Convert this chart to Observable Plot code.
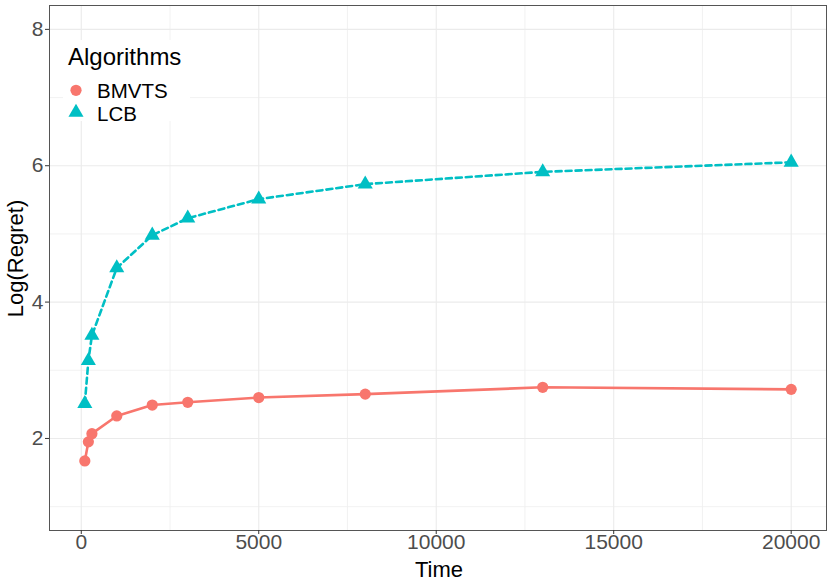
<!DOCTYPE html>
<html>
<head>
<meta charset="utf-8">
<script src="https://cdn.jsdelivr.net/npm/d3@7"></script>
<script src="https://cdn.jsdelivr.net/npm/@observablehq/plot@0.6"></script>
<style>
  html, body { margin: 0; padding: 0; background: white; }
  #wrap { position: relative; width: 830px; height: 588px; font-family: "Liberation Sans", Arial, sans-serif; }
  #legend { position: absolute; left: 63px; top: 40px; overflow: visible; }
</style>
</head>
<body>
<div id="wrap"></div>
<script>
const time = [100, 200, 300, 1000, 2000, 3000, 5000, 8000, 13000, 20000];
const bmvts = [1.67, 1.95, 2.07, 2.33, 2.49, 2.53, 2.60, 2.65, 2.75, 2.72];
const lcb = [2.51, 3.14, 3.51, 4.50, 4.98, 5.23, 5.51, 5.73, 5.91, 6.05];
const algorithms = ["BMVTS", "LCB"];
const colors = ["#F8766D", "#00BFC4"];
const xTicks = [0, 5000, 10000, 15000, 20000];
const xMinor = [2500, 7500, 12500, 17500];
const yTicks = [2, 4, 6, 8];
const yMinor = [1, 3, 5, 7];
const xTitle = "Time";
const yTitle = "Log(Regret)";
const legendTitle = "Algorithms";

const bm = time.map((t, i) => ({t, v: bmvts[i], alg: algorithms[0]}));
const lc = time.map((t, i) => ({t, v: lcb[i], alg: algorithms[1]}));

const font = "Liberation Sans, Arial, sans-serif";
const W = 830, H = 588, mT = 5, mR = 4, mB = 58, mL = 49;
const rCircle = 5.6, rTri = 5.6;

const chart = Plot.plot({
  width: W,
  height: H,
  marginTop: mT,
  marginRight: mR,
  marginBottom: mB,
  marginLeft: mL,
  style: {fontFamily: font, background: "white"},
  x: {domain: [-895, 20995]},
  y: {domain: [0.65, 8.35]},
  marks: [
    Plot.gridX(xMinor, {stroke: "#EFEFEF", strokeOpacity: 1, strokeWidth: 0.8}),
    Plot.gridY(yMinor, {stroke: "#EFEFEF", strokeOpacity: 1, strokeWidth: 0.8}),
    Plot.gridX(xTicks, {stroke: "#EBEBEB", strokeOpacity: 1, strokeWidth: 1.1}),
    Plot.gridY(yTicks, {stroke: "#EBEBEB", strokeOpacity: 1, strokeWidth: 1.1}),
    Plot.line(bm, {x: "t", y: "v", stroke: colors[0], strokeWidth: 2.6}),
    Plot.dot(bm, {x: "t", y: "v", fill: colors[0], r: rCircle, symbol: "circle"}),
    Plot.line(lc, {x: "t", y: "v", stroke: colors[1], strokeWidth: 2.6, strokeDasharray: "6,4"}),
    Plot.dot(lc, {x: "t", y: "v", fill: colors[1], r: rTri, symbol: "triangle"}),
    Plot.frame({stroke: "#555", strokeWidth: 1}),
    Plot.axisX(xTicks, {tickSize: 4, tickPadding: 0, fontSize: 21, fill: "#4D4D4D", stroke: "#333", tickFormat: d => String(d), label: null}),
    Plot.axisY(yTicks, {tickSize: 4, tickPadding: 2, fontSize: 21, fill: "#4D4D4D", stroke: "#333", tickFormat: d => String(d), label: null})
  ]
});
document.getElementById("wrap").appendChild(chart);

// Axis titles
const svg = d3.select(chart);
svg.append("text")
  .attr("x", 439).attr("y", 577)
  .attr("text-anchor", "middle")
  .attr("font-size", 22).attr("fill", "black")
  .style("font-family", font)
  .text(xTitle);
svg.append("text")
  .attr("transform", "translate(23,258.5) rotate(-90)")
  .attr("text-anchor", "middle")
  .attr("font-size", 22).attr("fill", "black")
  .style("font-family", font)
  .text(yTitle);

// Legend overlay (inside panel, top-left)
const lg = d3.select("#wrap").append("svg")
  .attr("id", "legend")
  .attr("width", 127).attr("height", 88)
  .style("font-family", font);
lg.append("rect").attr("width", 127).attr("height", 81).attr("fill", "white");
lg.append("text").attr("x", 5).attr("y", 25).attr("font-size", 24).attr("fill", "black").text(legendTitle);
const symbols = [d3.symbolCircle, d3.symbolTriangle];
const sizes = [Math.PI * rCircle * rCircle, Math.PI * rTri * rTri];
const rows = [50.3, 72.5];
const textY = [58, 80.5];
algorithms.forEach((a, i) => {
  lg.append("path")
    .attr("transform", `translate(13,${rows[i]})`)
    .attr("d", d3.symbol(symbols[i], sizes[i])())
    .attr("fill", colors[i]);
  lg.append("text").attr("x", 34).attr("y", textY[i]).attr("font-size", 20.5).attr("fill", "black").text(a);
});
</script>
</body>
</html>
